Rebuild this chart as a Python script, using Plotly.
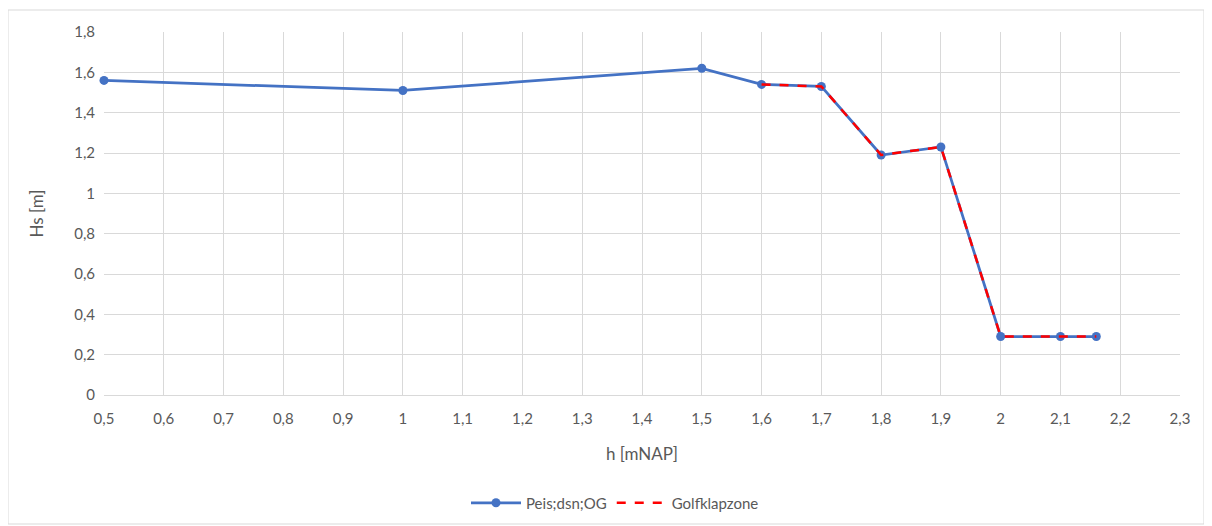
import plotly.graph_objects as go

h_main = [0.5, 1.0, 1.5, 1.6, 1.7, 1.8, 1.9, 2.0, 2.1, 2.16]
hs_main = [1.56, 1.51, 1.62, 1.54, 1.53, 1.19, 1.23, 0.29, 0.29, 0.29]
h_golf = [1.6, 1.7, 1.8, 1.9, 2.0, 2.1, 2.16]
hs_golf = [1.54, 1.53, 1.19, 1.23, 0.29, 0.29, 0.29]

FONT = "Lato"
GRAY = "#595959"
GRID = "#d9d9d9"

# page has an 8px body margin; figure origin is at (8, 8)
W, H = 1204, 518
L, T, R, B = 96, 24, 32, 131
PW = W - L - R
PH = H - T - B

fig = go.Figure()
fig.add_trace(go.Scatter(
    x=h_main, y=hs_main, name="Peis;dsn;OG", mode="lines+markers",
    line=dict(color="#4472C4", width=2.75),
    marker=dict(color="#4472C4", size=9), cliponaxis=False,
))
fig.add_trace(go.Scatter(
    x=h_golf, y=hs_golf, name="Golfklapzone", mode="lines",
    line=dict(color="#FF0000", width=2.5, dash="dash"), cliponaxis=False,
))

fig.update_layout(
    width=W, height=H,
    margin=dict(l=L, r=R, t=T, b=B, autoexpand=False),
    paper_bgcolor="white", plot_bgcolor="white",
    separators=", ",
    font=dict(family=FONT, size=15, color=GRAY),
    showlegend=True,
    legend=dict(orientation="h", x=(615 - 8 - L) / PW, xanchor="center",
                y=(395 - 503) / PH, yanchor="middle",
                font=dict(family=FONT, size=15, color=GRAY), itemwidth=50),
    hovermode=False,
    shapes=[dict(type="rect", xref="paper", yref="paper",
                 x0=(0 - L) / PW, x1=(1196 - L) / PW,
                 y0=(387 - 516) / PH, y1=(387 - 2) / PH,
                 line=dict(color="#d9d9d9", width=1), layer="below")],
)
fig.update_xaxes(
    range=[0.5, 2.3], tick0=0.5, dtick=0.1, showgrid=True, gridcolor=GRID, gridwidth=1,
    zeroline=False, showline=True, linecolor=GRID, linewidth=1, automargin=False,
    ticks="", ticklabelstandoff=10,
    title=dict(text="h [mNAP]", standoff=22, font=dict(family=FONT, size=17, color=GRAY)),
    tickfont=dict(family=FONT, size=15, color=GRAY),
)
fig.update_yaxes(
    range=[0, 1.8], dtick=0.2, showgrid=True, gridcolor=GRID, gridwidth=1,
    zeroline=False, showline=False, ticks="", ticklabelstandoff=8, automargin=False,
    title=dict(text="Hs [m]", standoff=26, font=dict(family=FONT, size=17, color=GRAY)),
    tickfont=dict(family=FONT, size=15, color=GRAY),
)

fig.write_html("out.html")
